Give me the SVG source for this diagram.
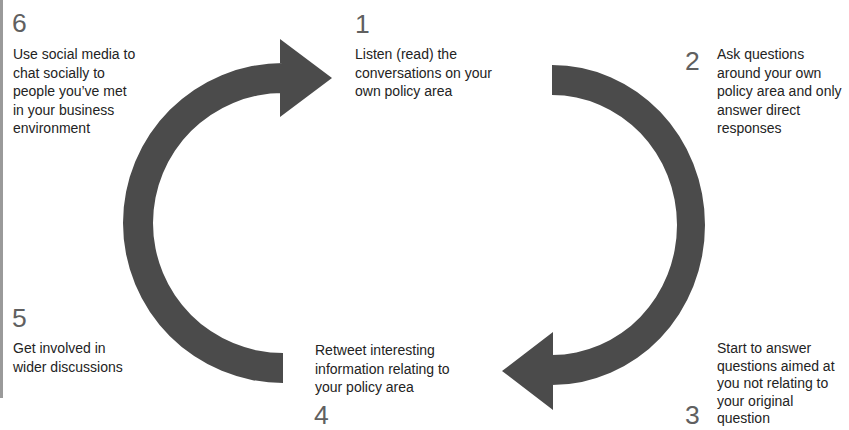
<svg xmlns="http://www.w3.org/2000/svg" width="849" height="430" viewBox="0 0 849 430">
  <style>
    .num { font-family: "Liberation Sans", Arial, sans-serif; font-size: 26.5px; fill: #606060; }
    .body { font-family: "Liberation Sans", Arial, sans-serif; font-size: 14px; fill: #232323; }
    .arrow { fill: #4b4b4b; }
  </style>
  <rect width="849" height="430" fill="#ffffff"/>
  <line x1="1.5" y1="0" x2="1.5" y2="398" stroke="#9a9a9a" stroke-width="3"/>

  <g id="connectors">
    <!-- left half-ring: from step 4 up to step 1 -->
    <path class="arrow" d="M 283 383 A 160 160 0 0 1 283 63 L 280 63 L 280 39 L 332 78 L 280 117 L 280 93 L 283 93 A 130 130 0 0 0 283 353 Z"/>
    <!-- right half-ring: from step 1 down to step 4 -->
    <path class="arrow" d="M 552 65 A 153 160 0 0 1 552 385 L 553 385 L 553 410 L 502 371 L 553 332 L 553 355 L 552 355 A 125 130 0 0 0 552 95 Z"/>
  </g>

  <g id="step1">
    <text class="num" x="355" y="33">1</text>
    <text class="body" x="355" y="59">Listen (read) the</text>
    <text class="body" x="355" y="77.5">conversations on your</text>
    <text class="body" x="355" y="96">own policy area</text>
  </g>

  <g id="step2">
    <text class="num" x="685" y="70">2</text>
    <text class="body" x="717" y="59">Ask questions</text>
    <text class="body" x="717" y="77.5">around your own</text>
    <text class="body" x="717" y="96">policy area and only</text>
    <text class="body" x="717" y="114.5">answer direct</text>
    <text class="body" x="717" y="133">responses</text>
  </g>

  <g id="step3">
    <text class="num" x="685" y="424">3</text>
    <text class="body" x="717" y="353">Start to answer</text>
    <text class="body" x="717" y="370.5">questions aimed at</text>
    <text class="body" x="717" y="388">you not relating to</text>
    <text class="body" x="717" y="405.5">your original</text>
    <text class="body" x="717" y="423">question</text>
  </g>

  <g id="step4">
    <text class="body" x="315" y="355">Retweet interesting</text>
    <text class="body" x="315" y="373.5">information relating to</text>
    <text class="body" x="315" y="392">your policy area</text>
    <text class="num" x="314" y="424">4</text>
  </g>

  <g id="step5">
    <text class="num" x="12" y="327">5</text>
    <text class="body" x="13" y="353">Get involved in</text>
    <text class="body" x="13" y="371.5">wider discussions</text>
  </g>

  <g id="step6">
    <text class="num" x="12" y="32">6</text>
    <text class="body" x="13" y="59">Use social media to</text>
    <text class="body" x="13" y="77.5">chat socially to</text>
    <text class="body" x="13" y="96">people you’ve met</text>
    <text class="body" x="13" y="114.5">in your business</text>
    <text class="body" x="13" y="133">environment</text>
  </g>
</svg>
